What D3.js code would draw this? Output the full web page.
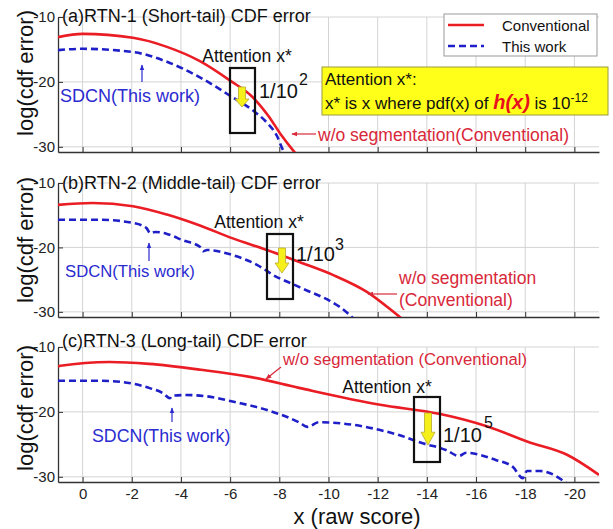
<!DOCTYPE html>
<html>
<head>
<meta charset="utf-8">
<script src="https://cdn.jsdelivr.net/npm/d3@7"></script>
<style>
  body { margin: 0; background: #fff; }
  svg { font-family: "Liberation Sans", Arial, sans-serif; }
</style>
</head>
<body>
<div id="chart"></div>
<script>
// ticks del eje x (raw score, va de positivo a negativo)
var xTicks = [0, -2, -4, -6, -8, -10, -12, -14, -16, -18, -20];
var yTicks = [-10, -20, -30];

// (a) short-tail
var convA = [[1,-13.1],[0,-12.6],[-2.05,-13.2],[-3.43,-14.6],[-4.77,-16.8],[-6.0,-19.8],[-6.93,-22.4],[-7.55,-25.2],[-8.1,-28.3],[-8.55,-30.5],[-8.75,-31.4]];
var workA = [[1,-15.1],[0,-14.9],[-2.05,-15.4],[-3.43,-16.9],[-4.77,-19.3],[-6.11,-22.4],[-6.93,-24.4],[-7.5,-26.3],[-7.9,-28.3],[-8.15,-30.5],[-8.3,-31.4]];
// (b) middle-tail
var convB = [[1,-13.4],[-0.4,-13.1],[-2.05,-13.6],[-3.43,-14.9],[-4.77,-16.6],[-6.11,-18.6],[-7.5,-20.4],[-8.84,-22.3],[-10.2,-24.3],[-11.56,-26.9],[-12.9,-30.8],[-13.1,-31.4]];
var workB = [[1,-15.7],[-0.7,-15.7],[-2.05,-16.2],[-2.6,-17.0],[-2.75,-17.8],[-2.95,-17.6],[-3.43,-17.9],[-4.08,-18.9],[-4.77,-19.9],[-4.9,-20.6],[-5.06,-20.4],[-6.11,-21.2],[-7.09,-22.7],[-7.9,-24.6],[-8.43,-25.5],[-8.84,-26.2],[-11.0,-31.0],[-11.1,-31.4]];
// (c) long-tail
var convC = [[1,-13.0],[0.9,-12.9],[-1.1,-12.3],[-2.7,-12.6],[-4.8,-13.5],[-6.8,-14.6],[-8.8,-16.3],[-12.1,-18.9],[-14.5,-20.3],[-16.5,-22.3],[-18.1,-24.6],[-19.7,-26.6],[-21,-29.7]];
var workC = [[1,-15.2],[-0.7,-15.2],[-1.8,-15.5],[-2.7,-16.3],[-3.3,-17.2],[-3.55,-17.9],[-3.65,-17.5],[-4.2,-17.4],[-5.4,-17.8],[-6.1,-18.4],[-7.5,-19.7],[-8.8,-21.6],[-9.15,-22.3],[-9.6,-21.6],[-11.5,-22.3],[-12.1,-22.8],[-12.9,-23.6],[-13.8,-24.8],[-14.8,-25.9],[-15.3,-26.8],[-15.6,-26.3],[-16.8,-27.4],[-17.5,-28.5],[-17.9,-30.2],[-18.07,-29.1],[-18.6,-29.1],[-19.5,-30.5],[-19.8,-31.4]];

var RED = "#ea1c24", BLUE = "#1f1fc8", RED_TXT = "#d8283a", BLUE_TXT = "#2b2bd0";

var svg = d3.select("#chart").append("svg").attr("width", 613).attr("height", 529);

var defs = svg.append("defs");
function addMarker(id, color) {
    defs.append("marker").attr("id", id).attr("viewBox", "0 0 10 10")
        .attr("refX", 9).attr("refY", 5).attr("markerWidth", 5).attr("markerHeight", 5)
        .attr("orient", "auto")
        .append("path").attr("d", "M0,1L10,5L0,9Z").attr("fill", color);
}
addMarker("arRed", RED_TXT);
addMarker("arBlue", BLUE_TXT);

var x = d3.scaleLinear().domain([1, -21]).range([58, 599]);

var panels = [
    { id: "a", top: 17, bottom: 152, titleY: 22, labY: 73, title: "(a)RTN-1 (Short-tail) CDF error", conv: convA, work: workA },
    { id: "b", top: 183, bottom: 317, titleY: 189, labY: 240, title: "(b)RTN-2 (Middle-tail) CDF error", conv: convB, work: workB },
    { id: "c", top: 347, bottom: 482, titleY: 347, labY: 408, title: "(c)RTN-3 (Long-tail) CDF error", conv: convC, work: workC }
];

panels.forEach(function(p, i) {
    var y = d3.scaleLinear().domain([-10, -30.8]).range([p.top, p.bottom]);
    var g = svg.append("g");

    // rejilla
    g.selectAll("line.vg").data(xTicks).enter().append("line")
        .attr("x1", d => x(d)).attr("x2", d => x(d))
        .attr("y1", p.top).attr("y2", p.bottom)
        .attr("stroke", "#d4d4d4").attr("stroke-width", 1);
    g.selectAll("line.hg").data(yTicks).enter().append("line")
        .attr("x1", 58).attr("x2", 599)
        .attr("y1", d => y(d)).attr("y2", d => y(d))
        .attr("stroke", "#d4d4d4").attr("stroke-width", 1);

    // ejes
    var xa = g.append("g").attr("transform", "translate(0," + p.bottom + ")")
        .call(d3.axisBottom(x).tickValues(xTicks).tickSize(-5).tickPadding(6).tickSizeOuter(0)
            .tickFormat(i === 2 ? d => String(d) : ""));
    var ya = g.append("g").attr("transform", "translate(58,0)")
        .call(d3.axisLeft(y).tickValues(yTicks).tickSize(-5).tickPadding(3).tickSizeOuter(0)
            .tickFormat(d => String(d)));
    [xa, ya].forEach(function(a) {
        a.select(".domain").attr("stroke", "#333").attr("stroke-width", 1.3);
        a.selectAll(".tick line").attr("stroke", "#333");
        a.selectAll("text").attr("font-size", 15).attr("fill", "#222")
            .attr("font-family", "Liberation Sans, Arial, sans-serif");
    });

    // clip
    defs.append("clipPath").attr("id", "clip" + p.id).append("rect")
        .attr("x", 58).attr("y", p.top - 5).attr("width", 541).attr("height", p.bottom - p.top + 5);

    var ln = d3.line().x(d => x(d[0])).y(d => y(d[1])).curve(d3.curveMonotoneX);
    var cg = g.append("g").attr("clip-path", "url(#clip" + p.id + ")");
    cg.append("path").attr("d", ln(p.conv)).attr("fill", "none")
        .attr("stroke", RED).attr("stroke-width", 2.6);
    cg.append("path").attr("d", ln(p.work)).attr("fill", "none")
        .attr("stroke", BLUE).attr("stroke-width", 2.6).attr("stroke-dasharray", "7,4");

    // titulo
    g.append("text").attr("x", 62).attr("y", p.titleY).attr("font-size", 18).attr("fill", "#111")
        .text(p.title);

    // etiqueta eje y
    g.append("text").attr("transform", "translate(33," + p.labY + ") rotate(-90)")
        .attr("text-anchor", "middle").attr("font-size", 22).attr("fill", "#111")
        .text("log(cdf error)");
});

// etiqueta eje x
svg.append("text").attr("x", 357).attr("y", 524).attr("text-anchor", "middle")
    .attr("font-size", 22).attr("fill", "#111").text("x (raw score)");

// leyenda
var lg = svg.append("g");
lg.append("rect").attr("x", 444).attr("y", 14).attr("width", 153).attr("height", 42)
    .attr("fill", "#fff").attr("stroke", "#999");
lg.append("line").attr("x1", 448).attr("x2", 484).attr("y1", 25).attr("y2", 25)
    .attr("stroke", RED).attr("stroke-width", 2.6);
lg.append("line").attr("x1", 448).attr("x2", 484).attr("y1", 46).attr("y2", 46)
    .attr("stroke", BLUE).attr("stroke-width", 2.6).attr("stroke-dasharray", "7,4");
lg.append("text").attr("x", 502).attr("y", 31).attr("font-size", 15).attr("fill", "#111").text("Conventional");
lg.append("text").attr("x", 502).attr("y", 52).attr("font-size", 15).attr("fill", "#111").text("This work");

// caja amarilla
var yb = svg.append("g");
yb.append("rect").attr("x", 322).attr("y", 67).attr("width", 286).attr("height", 48)
    .attr("fill", "#ffff1a").attr("stroke", "#9a9a40").attr("stroke-width", 1);
yb.append("text").attr("x", 325).attr("y", 85).attr("font-size", 17).attr("fill", "#111").text("Attention x*:");
var t2 = yb.append("text").attr("x", 325).attr("y", 109).attr("font-size", 17).attr("fill", "#111");
t2.append("tspan").text("x* is x where pdf(x) of ");
t2.append("tspan").attr("fill", "#e8101c").attr("font-style", "italic").attr("font-weight", "bold")
    .attr("font-size", 20).text("h(x)");
t2.append("tspan").text(" is 10");
t2.append("tspan").attr("font-size", 12).attr("dy", -7).text("-12");

// cajas "Attention x*" y flechas amarillas
var att = [
    { bx: 230, by: 68, bw: 25, bh: 65, tx: 247, ty: 62, ax: 242, a0: 87, a1: 107, rx: 259, ry: 98, sx: 299, sy: 85, sup: "2" },
    { bx: 267, by: 234, bw: 26, bh: 65, tx: 259, ty: 228, ax: 282, a0: 248, a1: 273, rx: 296, ry: 261, sx: 335, sy: 250, sup: "3" },
    { bx: 414, by: 397, bw: 26, bh: 65, tx: 387, ty: 393, ax: 428, a0: 413, a1: 445, rx: 443, ry: 442, sx: 484, sy: 428, sup: "5" }
];
att.forEach(function(a) {
    svg.append("rect").attr("x", a.bx).attr("y", a.by).attr("width", a.bw).attr("height", a.bh)
        .attr("fill", "none").attr("stroke", "#111").attr("stroke-width", 2.2);
    svg.append("text").attr("x", a.tx).attr("y", a.ty).attr("text-anchor", "middle")
        .attr("font-size", 17.5).attr("fill", "#111").text("Attention x*");
    var hl = (a.a1 - a.a0) * 0.4;
    var d = "M" + (a.ax - 3.5) + "," + a.a0 + "L" + (a.ax + 3.5) + "," + a.a0 +
        "L" + (a.ax + 3.5) + "," + (a.a1 - hl) + "L" + (a.ax + 7) + "," + (a.a1 - hl) +
        "L" + a.ax + "," + a.a1 + "L" + (a.ax - 7) + "," + (a.a1 - hl) +
        "L" + (a.ax - 3.5) + "," + (a.a1 - hl) + "Z";
    svg.append("path").attr("d", d).attr("fill", "#f6f01a").attr("stroke", "#b8a830").attr("stroke-width", 0.8);
    svg.append("text").attr("x", a.rx).attr("y", a.ry).attr("font-size", 20).attr("fill", "#111").text("1/10");
    svg.append("text").attr("x", a.sx).attr("y", a.sy).attr("font-size", 16).attr("fill", "#111").text(a.sup);
});

// etiquetas SDCN (azul)
var sd = [
    { x: 60, y: 102, fs: 18, ax: 142, a0: 82, a1: 65 },
    { x: 65, y: 277, fs: 16.7, ax: 149, a0: 261, a1: 243 },
    { x: 92, y: 442, fs: 17.8, ax: 172, a0: 422, a1: 408 }
];
sd.forEach(function(s) {
    svg.append("text").attr("x", s.x).attr("y", s.y).attr("font-size", s.fs).attr("fill", BLUE_TXT)
        .text("SDCN(This work)");
    svg.append("line").attr("x1", s.ax).attr("x2", s.ax).attr("y1", s.a0).attr("y2", s.a1)
        .attr("stroke", BLUE_TXT).attr("stroke-width", 1.2).attr("marker-end", "url(#arBlue)");
});

// etiquetas convencional (rojo)
svg.append("text").attr("x", 318).attr("y", 141).attr("font-size", 17.5).attr("fill", RED_TXT)
    .text("w/o segmentation(Conventional)");
svg.append("line").attr("x1", 316).attr("y1", 134).attr("x2", 292).attr("y2", 134)
    .attr("stroke", RED_TXT).attr("stroke-width", 1.2).attr("marker-end", "url(#arRed)");

svg.append("text").attr("x", 399).attr("y", 284).attr("font-size", 17.5).attr("fill", RED_TXT)
    .text("w/o segmentation");
svg.append("text").attr("x", 399).attr("y", 306).attr("font-size", 17.5).attr("fill", RED_TXT)
    .text("(Conventional)");
svg.append("line").attr("x1", 397).attr("y1", 294).attr("x2", 368).attr("y2", 294)
    .attr("stroke", RED_TXT).attr("stroke-width", 1.2).attr("marker-end", "url(#arRed)");

svg.append("text").attr("x", 283).attr("y", 365).attr("font-size", 16.7).attr("fill", RED_TXT)
    .text("w/o segmentation (Conventional)");
svg.append("line").attr("x1", 281).attr("y1", 367).attr("x2", 266).attr("y2", 379)
    .attr("stroke", RED_TXT).attr("stroke-width", 1.2).attr("marker-end", "url(#arRed)");
</script>
</body>
</html>
